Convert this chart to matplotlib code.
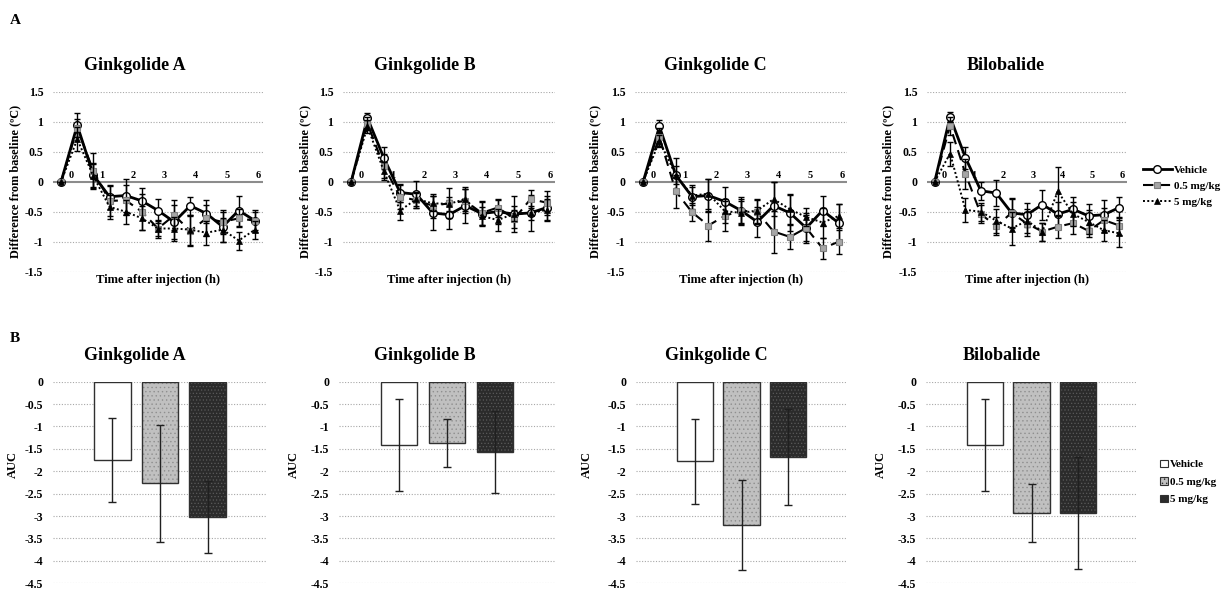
import numpy as np
import matplotlib
matplotlib.use('Agg')
import matplotlib.pyplot as plt
from matplotlib.lines import Line2D
from matplotlib.patches import Patch

plt.rcParams['font.family'] = ['Liberation Serif', 'DejaVu Serif']
plt.rcParams['font.weight'] = 'bold'
plt.rcParams['hatch.linewidth'] = 0.5

compounds = ['Ginkgolide A', 'Ginkgolide B', 'Ginkgolide C', 'Bilobalide']
groups = ['Vehicle', '0.5 mg/kg', '5 mg/kg']
hour_labels = ['0', '1', '2', '3', '4', '5', '6']

# ---- Time course data (13 measurement points) ----
ga_vehicle = [0, 0.94, 0.11, -0.25, -0.23, -0.32, -0.48, -0.67, -0.40, -0.53, -0.75, -0.48, -0.65]
ga_low     = [0, 0.89, 0.18, -0.32, -0.31, -0.50, -0.78, -0.56, -0.82, -0.61, -0.67, -0.61, -0.65]
ga_high    = [0, 0.71, 0.09, -0.42, -0.50, -0.61, -0.78, -0.78, -0.80, -0.85, -0.80, -0.98, -0.80]
ga_vehicle_err = [0, 0.20, 0.20, 0.20, 0.28, 0.22, 0.20, 0.28, 0.15, 0.15, 0.25, 0.25, 0.18]
ga_low_err     = [0, 0.15, 0.30, 0.25, 0.25, 0.30, 0.12, 0.25, 0.25, 0.30, 0.20, 0.15, 0.15]
ga_high_err    = [0, 0.20, 0.20, 0.20, 0.20, 0.20, 0.15, 0.20, 0.25, 0.20, 0.20, 0.15, 0.15]

gb_vehicle = [0, 1.06, 0.40, -0.18, -0.21, -0.52, -0.55, -0.40, -0.53, -0.50, -0.54, -0.52, -0.43]
gb_low     = [0, 0.97, 0.26, -0.25, -0.31, -0.40, -0.36, -0.32, -0.52, -0.43, -0.62, -0.29, -0.35]
gb_high    = [0, 0.92, 0.18, -0.48, -0.29, -0.36, -0.37, -0.29, -0.57, -0.64, -0.53, -0.52, -0.47]
gb_vehicle_err = [0, 0.08, 0.18, 0.15, 0.22, 0.28, 0.24, 0.28, 0.20, 0.20, 0.30, 0.30, 0.20]
gb_low_err     = [0, 0.10, 0.20, 0.20, 0.12, 0.20, 0.25, 0.20, 0.20, 0.15, 0.15, 0.15, 0.20]
gb_high_err    = [0, 0.10, 0.15, 0.15, 0.12, 0.12, 0.12, 0.20, 0.15, 0.18, 0.12, 0.12, 0.18]

gc_vehicle = [0, 0.92, 0.11, -0.25, -0.23, -0.33, -0.48, -0.67, -0.40, -0.52, -0.77, -0.48, -0.69]
gc_low     = [0, 0.74, -0.16, -0.51, -0.73, -0.57, -0.48, -0.51, -0.83, -0.92, -0.77, -1.11, -1.00]
gc_high    = [0, 0.68, 0.11, -0.23, -0.20, -0.49, -0.52, -0.48, -0.29, -0.46, -0.59, -0.68, -0.57]
gc_vehicle_err = [0, 0.10, 0.28, 0.20, 0.28, 0.25, 0.22, 0.25, 0.40, 0.30, 0.25, 0.25, 0.32]
gc_low_err     = [0, 0.15, 0.27, 0.15, 0.25, 0.25, 0.20, 0.20, 0.35, 0.20, 0.22, 0.18, 0.20]
gc_high_err    = [0, 0.10, 0.15, 0.15, 0.25, 0.20, 0.20, 0.20, 0.28, 0.25, 0.15, 0.25, 0.20]

bb_vehicle = [0, 1.08, 0.40, -0.15, -0.19, -0.52, -0.55, -0.38, -0.54, -0.46, -0.57, -0.55, -0.43]
bb_low     = [0, 0.93, 0.13, -0.54, -0.74, -0.52, -0.70, -0.83, -0.75, -0.69, -0.82, -0.64, -0.73]
bb_high    = [0, 0.47, -0.47, -0.50, -0.65, -0.78, -0.65, -0.83, -0.16, -0.54, -0.67, -0.81, -0.86]
bb_vehicle_err = [0, 0.08, 0.18, 0.15, 0.22, 0.23, 0.20, 0.25, 0.20, 0.20, 0.20, 0.25, 0.17]
bb_low_err     = [0, 0.15, 0.25, 0.15, 0.15, 0.25, 0.20, 0.15, 0.18, 0.18, 0.10, 0.20, 0.15]
bb_high_err    = [0, 0.20, 0.20, 0.15, 0.20, 0.28, 0.20, 0.15, 0.40, 0.20, 0.20, 0.18, 0.22]

# ---- AUC data ----
auc_vehicle = [-1.75, -1.42, -1.78, -1.41]
auc_low     = [-2.27, -1.37, -3.20, -2.93]
auc_high    = [-3.02, -1.57, -1.69, -2.93]
auc_vehicle_err = [0.93, 1.03, 0.94, 1.03]
auc_low_err     = [1.30, 0.54, 1.01, 0.64]
auc_high_err    = [0.81, 0.91, 1.07, 1.25]

time_series = [
    (ga_vehicle, ga_low, ga_high, ga_vehicle_err, ga_low_err, ga_high_err),
    (gb_vehicle, gb_low, gb_high, gb_vehicle_err, gb_low_err, gb_high_err),
    (gc_vehicle, gc_low, gc_high, gc_vehicle_err, gc_low_err, gc_high_err),
    (bb_vehicle, bb_low, bb_high, bb_vehicle_err, bb_low_err, bb_high_err),
]

W, H = 1226, 592
fig = plt.figure(figsize=(W / 100, H / 100), dpi=100)

def box(x0, x1, ytop, ybot):
    return [x0 / W, 1 - ybot / H, (x1 - x0) / W, (ybot - ytop) / H]

top_x = [(53, 263), (343, 555), (635, 847), (927, 1127)]
bot_x = [(53, 267), (339, 555), (636, 847), (926, 1137)]
top_title_x = [135, 425, 715, 1006]
bot_title_x = [135, 425, 716, 1002]
top_ylab_x = [15, 305, 595, 888]
bot_ylab_x = [13, 294, 587, 881]

grid_kw = dict(color='#a8a8a8', lw=0.8, ls=(0, (1, 1.5)), zorder=0)
line_styles = [
    dict(color='black', lw=2.0, ls='-', marker='o', ms=5.5, mfc='white', mec='black', mew=1.0),
    dict(color='black', lw=1.5, ls=(0, (5, 3)), marker='s', ms=5, mfc='#a6a6a6', mec='#7f7f7f', mew=0.8),
    dict(color='black', lw=1.4, ls=(0, (1, 1.2)), marker='^', ms=4.5, mfc='black', mec='black', mew=0.5),
]

for k, name in enumerate(compounds):
    ax = fig.add_axes(box(top_x[k][0], top_x[k][1], 91.7, 271.7))
    series = time_series[k]
    x = np.arange(len(series[0]))
    for yv in [1.5, 1, 0.5, -0.5, -1, -1.5]:
        ax.axhline(yv, **grid_kw)
    ax.axhline(0, color='#8c8c8c', lw=1.5, zorder=1)
    for j in range(3):
        vals = np.array(series[j])
        errs = np.array(series[3 + j])
        ax.errorbar(x, vals, yerr=errs, fmt='none', ecolor='black', elinewidth=1.0,
                    capsize=2.5, capthick=1.0, zorder=2 + j)
        ax.plot(x, vals, zorder=3 + j, **line_styles[j])
    ax.set_xlim(-0.5, len(x) - 0.5)
    ax.set_ylim(-1.5, 1.5)
    ax.set_yticks([1.5, 1, 0.5, 0, -0.5, -1, -1.5])
    ax.set_yticklabels(['1.5', '1', '0.5', '0', '-0.5', '-1', '-1.5'])
    ax.set_xticks([])
    ax.tick_params(axis='y', length=0, pad=7, labelsize=8.5)
    for s in ax.spines.values():
        s.set_visible(False)
    for h, lab in enumerate(hour_labels):
        ax.text(0.6 + 1.93 * h, 0.02, lab, ha='center', va='bottom', fontsize=7.5,
                fontweight='bold', zorder=6)
    ax.set_xlabel('Time after injection (h)', fontsize=9, fontweight='bold', labelpad=2)
    fig.text(top_title_x[k] / W, 1 - 65 / H, name, ha='center', va='center',
             fontsize=13, fontweight='bold')
    fig.text(top_ylab_x[k] / W, 1 - 181.7 / H, 'Difference from baseline (\u00baC)',
             rotation=90, ha='center', va='center', fontsize=8.8, fontweight='bold')

bar_face = ['white', '#c0c0c0', '#2b2b2b']
bar_hatch = [None, '....', '.....']
hatch_col = ['white', '#8f8f8f', '#5a5a5a']
auc_vals = [auc_vehicle, auc_low, auc_high]
auc_errs = [auc_vehicle_err, auc_low_err, auc_high_err]

for k, name in enumerate(compounds):
    ax = fig.add_axes(box(bot_x[k][0], bot_x[k][1], 381.7, 583.3))
    for yv in np.arange(0, -4.51, -0.5):
        ax.axhline(yv, **grid_kw)
    for j in range(3):
        v = auc_vals[j][k]
        e = auc_errs[j][k]
        ax.bar(j, v, width=0.77, color=bar_face[j], edgecolor=hatch_col[j],
               hatch=bar_hatch[j], linewidth=0, zorder=2)
        ax.bar(j, v, width=0.77, color='none', edgecolor='#303030', linewidth=1.0, zorder=3)
        ax.errorbar(j, v, yerr=e, fmt='none', ecolor='#202020', elinewidth=1.0,
                    capsize=3, capthick=1.0, zorder=4)
    ax.set_xlim(-1.25, 3.25)
    ax.set_ylim(-4.5, 0)
    ticks = np.arange(0, -4.51, -0.5)
    ax.set_yticks(ticks)
    ax.set_yticklabels(['0' if t == 0 else ('%g' % t) for t in ticks])
    ax.set_xticks([])
    ax.tick_params(axis='y', length=0, pad=7, labelsize=8.5)
    for s in ax.spines.values():
        s.set_visible(False)
    fig.text(bot_title_x[k] / W, 1 - 355 / H, name, ha='center', va='center',
             fontsize=13, fontweight='bold')
    fig.text(bot_ylab_x[k] / W, 1 - 465 / H, 'AUC', rotation=90, ha='center',
             va='center', fontsize=9, fontweight='bold')

# Legends
handles_top = [Line2D([], [], **line_styles[j]) for j in range(3)]
fig.legend(handles_top, groups, loc='center left', bbox_to_anchor=(1133 / W, 1 - 186 / H),
           frameon=False, handlelength=2.6, handletextpad=0.2,
           labelspacing=0.55, prop={'weight': 'bold', 'size': 8})

handles_bot = [Patch(facecolor=bar_face[j], edgecolor='#303030', hatch=bar_hatch[j], lw=0.8)
               for j in range(3)]
fig.legend(handles_bot, groups, loc='center left', bbox_to_anchor=(1150 / W, 1 - 482 / H),
           frameon=False, handlelength=0.7, handleheight=0.7, handletextpad=0.2,
           labelspacing=0.7, prop={'weight': 'bold', 'size': 8})

fig.text(15 / W, 1 - 20 / H, 'A', fontsize=11, fontweight='bold', ha='center', va='center')
fig.text(15 / W, 1 - 338 / H, 'B', fontsize=11, fontweight='bold', ha='center', va='center')

fig.savefig('out.png', dpi=100)
